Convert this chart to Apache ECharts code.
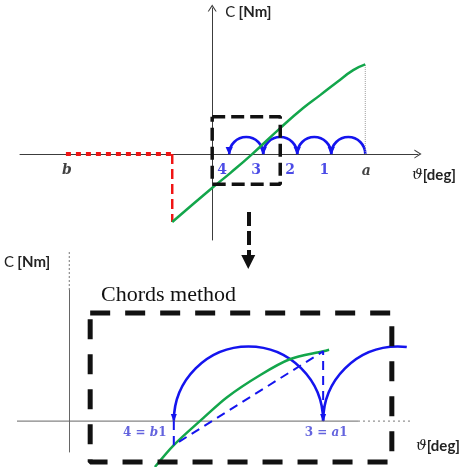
<!DOCTYPE html>
<html>
<head>
<meta charset="utf-8">
<script src="https://cdn.jsdelivr.net/npm/echarts@6/dist/echarts.min.js"></script>
<style>
  html, body { margin: 0; padding: 0; background: #ffffff; }
  #chart { width: 461px; height: 467px; }
</style>
</head>
<body>
<div id="chart"></div>
<script>
// ---------- overview: torque C(θ) and the fixed-step search ----------
const overviewRangeX = [-11.3, 12.1];
const overviewRangeY = [-5.06, 8.6];
const overviewCurve = [
  [-2.35, -4.0], [0.06, -1.94], [1.06, -1.12], [2.35, 0], [4.0, 1.53],
  [5.35, 2.71], [6.35, 3.47], [7.35, 4.24], [8.29, 4.94], [9.0, 5.28]
];
const boundB = -8.6;                       // lower search bound b
const stepPoints = [9, 7, 5, 3, 1];        // a, 1, 2, 3, 4
const stepNames = ['a', '1', '2', '3', '4'];
const zoomFrameX = [0, 4.0];
const zoomFrameY = [-1.78, 2.19];
const connectorX = 2.12;
const connectorY = [-3.41, -6.35];

// ---------- detail: chords method between b1 and a1 ----------
const detailRangeX = [-1.05, 6.885];
const detailRangeY = [-0.62, 2.63];
const detailSolidEndX = 5.8;               // θ axis turns dotted beyond this
const detailReachY = 3.43;                 // C axis dotted up to here
const detailCurve = [
  [1.72, -0.92], [2.1, -0.48], [2.69, 0.06], [3.17, 0.48], [3.83, 0.92],
  [4.43, 1.24], [5.1, 1.40], [5.22, 1.43]
];
const pointB1 = 2.1, pointA1 = 5.1, previousStep = 8.1;
const valueB1 = -0.48, valueA1 = 1.40;
const detailViewEdge = 6.78;
const detailFrameX = [0.42, 6.48];
const detailFrameY = [-0.82, 2.17];
const detailNames = ['4 = b1', '3 = a1'];

const BLUE = '#1414ee';
const GREEN = '#13a64b';
const RED = '#f01414';
const CHEVRON = 'path://M0,8 L5,0 L10,8 L8.7,8 L5,2.2 L1.3,8 Z';

function frame(xs, ys) {
  return [[xs[0], ys[1]], [xs[1], ys[1]], [xs[1], ys[0]], [xs[0], ys[0]], [xs[0], ys[1]]];
}

// Upper half-circle from "from" to "to" along θ, with an arrow head at "to".
function stepArc(headLen, headHalf, width) {
  return function (params, api) {
    const from = api.value(0), to = api.value(1), cut = api.value(2);
    const pFrom = api.coord([from, 0]);
    const pTo = api.coord([to, 0]);
    const cx = (pFrom[0] + pTo[0]) / 2, cy = pFrom[1];
    const r = Math.abs(pFrom[0] - pTo[0]) / 2;
    let endAngle = Math.PI * 2;
    if (Number.isFinite(cut)) {
      const pc = api.coord([cut, 0])[0];
      endAngle = Math.PI * 2 - Math.acos(Math.max(-1, Math.min(1, (pc - cx) / r)));
    }
    return {
      type: 'group',
      children: [
        {
          type: 'arc',
          shape: { cx: cx, cy: cy, r: r, startAngle: Math.PI, endAngle: endAngle, clockwise: true },
          style: { stroke: BLUE, fill: null, lineWidth: width }
        },
        {
          type: 'polygon',
          shape: { points: [[pTo[0], cy + 1], [pTo[0] - headHalf, cy - headLen], [pTo[0] + headHalf, cy - headLen]] },
          style: { fill: BLUE }
        }
      ]
    };
  };
}

const axisNameRich = {
  c: { fontFamily: 'Lato, "Open Sans", sans-serif', fontSize: 15, color: '#222' },
  u: { fontFamily: 'Lato, "Open Sans", sans-serif', fontSize: 15, fontWeight: 'bold', color: '#222' },
  t: { fontFamily: '"DejaVu Serif", serif', fontSize: 15, fontStyle: 'italic', color: '#222' }
};

function hiddenParts() {
  return { axisTick: { show: false }, axisLabel: { show: false }, splitLine: { show: false } };
}

const firstCurve = overviewCurve[0];
const lastCurve = overviewCurve[overviewCurve.length - 1];

const topLabels = [{ name: 'b', value: [boundB, 0], label: { offset: [1, 16], fontStyle: 'italic', color: '#111' } }]
  .concat(stepPoints.map(function (x, i) {
    const letter = i === 0;
    return {
      name: stepNames[i], value: [x, 0],
      label: letter ? { offset: [1, 17], fontStyle: 'italic', color: '#111' } : { offset: [-7, 16], color: '#1e1ee0' }
    };
  }));

const bottomLabels = [
  { name: detailNames[0], value: [pointB1, 0], label: { offset: [-29, 12] } },
  { name: detailNames[1], value: [pointA1, 0], label: { offset: [3, 12] } }
];

const option = {
  animation: false,
  backgroundColor: '#ffffff',
  title: {
    text: 'Chords method',
    left: 96, top: 279,
    textStyle: { fontFamily: '"Liberation Serif", serif', fontWeight: 'normal', fontSize: 22, color: '#111' }
  },
  grid: [
    { left: 20, top: 8, width: 398, height: 232 },
    { left: 17, top: 290, width: 395, height: 162 }
  ],
  xAxis: [
    Object.assign({
      type: 'value', gridIndex: 0, min: overviewRangeX[0], max: overviewRangeX[1],
      axisLine: { onZero: true, symbol: ['none', CHEVRON], symbolSize: [9, 8], lineStyle: { color: '#3c3c3c', width: 1 } },
      name: '{t|ϑ}{u|[deg]}', nameLocation: 'end', nameGap: 38,
      nameTextStyle: { align: 'right', verticalAlign: 'top', padding: [14, 0, 0, 0], rich: axisNameRich }
    }, hiddenParts()),
    Object.assign({
      type: 'value', gridIndex: 1, min: detailRangeX[0], max: detailRangeX[1],
      axisLine: { show: false, onZero: true },
      name: '{t|ϑ}{u|[deg]}', nameLocation: 'end', nameGap: 48,
      nameTextStyle: { align: 'right', verticalAlign: 'top', padding: [18, 0, 0, 0], rich: axisNameRich }
    }, hiddenParts())
  ],
  yAxis: [
    Object.assign({
      type: 'value', gridIndex: 0, min: overviewRangeY[0], max: overviewRangeY[1],
      axisLine: { onZero: true, symbol: ['none', CHEVRON], symbolSize: [9, 8], lineStyle: { color: '#3c3c3c', width: 1 } },
      name: '{c|C} {u|[Nm]}', nameLocation: 'end', nameGap: -4,
      nameTextStyle: { align: 'left', verticalAlign: 'middle', padding: [0, 0, 0, 13], rich: axisNameRich }
    }, hiddenParts()),
    Object.assign({
      type: 'value', gridIndex: 1, min: detailRangeY[0], max: detailRangeY[1],
      axisLine: { onZero: true, lineStyle: { color: '#666', width: 1 } },
      name: '{c|C} {u|[Nm]}', nameLocation: 'end', nameGap: 28,
      nameTextStyle: { align: 'right', verticalAlign: 'middle', padding: [0, 19, 0, 0], rich: axisNameRich }
    }, hiddenParts())
  ],
  series: [
    // ----- overview -----
    {
      type: 'line', xAxisIndex: 0, yAxisIndex: 0, data: [[lastCurve[0], 0], lastCurve],
      symbol: 'none', lineStyle: { color: '#9a9a9a', width: 1, type: 'dotted' }
    },
    {
      type: 'line', xAxisIndex: 0, yAxisIndex: 0, data: [[boundB, 0], [firstCurve[0], 0]],
      symbol: 'none', lineStyle: { color: RED, width: 4, type: [5, 5] }
    },
    {
      type: 'line', xAxisIndex: 0, yAxisIndex: 0, data: [[firstCurve[0], 0], firstCurve],
      symbol: 'none', lineStyle: { color: RED, width: 2.5, type: [10, 5] }
    },
    {
      type: 'line', xAxisIndex: 0, yAxisIndex: 0, data: overviewCurve, smooth: 0.5,
      symbol: 'none', lineStyle: { color: GREEN, width: 2.5 }
    },
    {
      type: 'custom', xAxisIndex: 0, yAxisIndex: 0, renderItem: stepArc(7, 3.6, 2.6),
      data: stepPoints.slice(0, -1).map(function (x, i) { return [x, stepPoints[i + 1]]; })
    },
    {
      type: 'line', xAxisIndex: 0, yAxisIndex: 0, data: frame(zoomFrameX, zoomFrameY),
      symbol: 'none', lineStyle: { color: '#111', width: 3.5, type: [13, 6] }
    },
    {
      type: 'lines', coordinateSystem: 'cartesian2d', xAxisIndex: 0, yAxisIndex: 0, clip: false,
      symbol: ['none', 'triangle'], symbolSize: [14, 14],
      lineStyle: { color: '#111', width: 4, type: [14, 5], opacity: 1 },
      data: [{ coords: [[connectorX, connectorY[0]], [connectorX, connectorY[1]]] }]
    },
    {
      type: 'scatter', xAxisIndex: 0, yAxisIndex: 0, symbolSize: 0.1,
      itemStyle: { color: 'rgba(0,0,0,0)' },
      label: {
        show: true, position: 'inside', formatter: '{b}',
        fontFamily: '"DejaVu Serif", serif', fontWeight: 'bold', fontSize: 14
      },
      data: topLabels
    },
    // ----- detail -----
    {
      type: 'line', xAxisIndex: 1, yAxisIndex: 1, data: [[detailRangeX[0], 0], [detailSolidEndX, 0]],
      symbol: 'none', lineStyle: { color: '#666', width: 1 }
    },
    {
      type: 'line', xAxisIndex: 1, yAxisIndex: 1, data: [[detailSolidEndX, 0], [detailRangeX[1], 0]],
      symbol: 'none', lineStyle: { color: '#777', width: 1, type: [2, 3] }
    },
    {
      type: 'line', xAxisIndex: 1, yAxisIndex: 1, clip: false, data: [[0, detailRangeY[1]], [0, detailReachY]],
      symbol: 'none', lineStyle: { color: '#777', width: 1, type: [2, 2] }
    },
    {
      type: 'line', xAxisIndex: 1, yAxisIndex: 1, clip: false, data: detailCurve, smooth: 0.3,
      symbol: 'none', lineStyle: { color: GREEN, width: 2.5 }
    },
    {
      type: 'line', xAxisIndex: 1, yAxisIndex: 1, clip: false,
      data: [[pointB1, 0], [pointB1, valueB1], [pointA1, valueA1], [pointA1, 0]],
      symbol: 'none', lineStyle: { color: BLUE, width: 2, type: [9, 6] }
    },
    {
      type: 'custom', xAxisIndex: 1, yAxisIndex: 1, clip: false, renderItem: stepArc(7, 3, 2.6),
      data: [[previousStep, pointA1, detailViewEdge], [pointA1, pointB1]]
    },
    {
      type: 'line', xAxisIndex: 1, yAxisIndex: 1, clip: false, data: frame(detailFrameX, detailFrameY),
      symbol: 'none', lineStyle: { color: '#111', width: 5, type: [20, 15] }
    },
    {
      type: 'scatter', xAxisIndex: 1, yAxisIndex: 1, symbolSize: 0.1,
      itemStyle: { color: 'rgba(0,0,0,0)' },
      label: {
        show: true, position: 'inside', color: '#3c3cd6',
        formatter: function (p) {
          const parts = p.name.split(' = ');
          return '{n|' + parts[0] + ' = }{v|' + parts[1].charAt(0) + '}{n|' + parts[1].slice(1) + '}';
        },
        rich: {
          n: { fontFamily: '"DejaVu Serif", serif', fontWeight: 'bold', fontSize: 12, color: '#3c3cd6' },
          v: { fontFamily: '"DejaVu Serif", serif', fontWeight: 'bold', fontStyle: 'italic', fontSize: 12, color: '#3c3cd6' }
        }
      },
      data: bottomLabels
    }
  ]
};

const chart = echarts.init(document.getElementById('chart'), null, { renderer: 'canvas' });
chart.setOption(option);
</script>
</body>
</html>
